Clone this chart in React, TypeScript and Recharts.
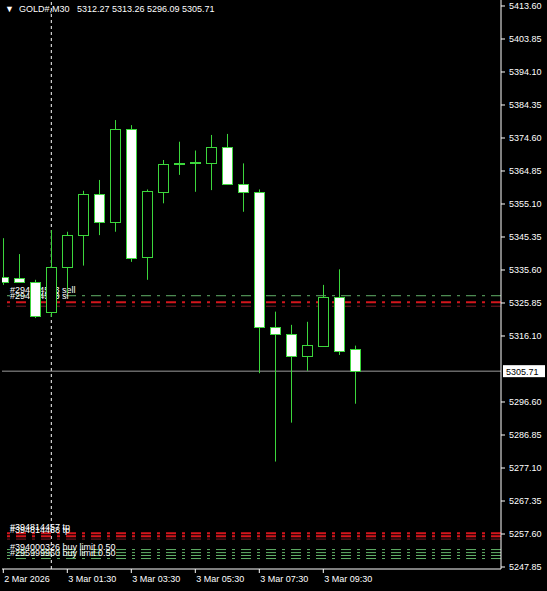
import { ComposedChart, Bar, XAxis, YAxis, ReferenceLine } from "recharts";

// GOLD#, M30 bars (oldest first)
const opens = [5333.5, 5333.1, 5332.0, 5323.2, 5336.5, 5345.9, 5358.0, 5349.9, 5377.2, 5339.4, 5358.7, 5367.0, 5367.1, 5367.1, 5371.9, 5360.9, 5358.6, 5318.9, 5316.6, 5310.3, 5313.2, 5327.5, 5312.27];
const highs = [5345.0, 5340.3, 5332.7, 5347.4, 5346.9, 5359.0, 5362.2, 5379.9, 5378.4, 5359.4, 5368.1, 5373.5, 5370.9, 5375.5, 5375.8, 5367.1, 5359.4, 5323.3, 5319.4, 5320.3, 5331.2, 5335.8, 5313.26];
const lows = [5331.2, 5332.6, 5321.4, 5321.7, 5328.8, 5336.9, 5345.9, 5346.9, 5338.0, 5332.7, 5355.3, 5363.7, 5358.7, 5359.2, 5360.7, 5352.8, 5305.1, 5279.0, 5290.5, 5305.8, 5313.2, 5310.5, 5296.09];
const closes = [5332.0, 5332.1, 5322.0, 5336.5, 5345.9, 5358.0, 5349.9, 5377.2, 5339.1, 5358.9, 5366.8, 5367.3, 5367.4, 5371.9, 5360.9, 5358.6, 5318.9, 5316.6, 5310.3, 5313.4, 5327.5, 5311.8, 5305.71];

const timeTicks = [0, 4, 8, 12, 16, 20];
const timeLabels = ["2 Mar 2026", "3 Mar 01:30", "3 Mar 03:30", "3 Mar 05:30", "3 Mar 07:30", "3 Mar 09:30"];
const daySeparator = 3;

const priceTicks = [5413.6, 5403.85, 5394.1, 5384.35, 5374.6, 5364.85, 5355.1, 5345.35, 5335.6, 5325.85, 5316.1, 5296.6, 5286.85, 5277.1, 5267.35, 5257.6, 5247.85];

// trade levels drawn on the chart
const orderPrices = [5328.0, 5326.1, 5324.9, 5257.8, 5256.9, 5256.1, 5253.0, 5252.1, 5251.25, 5250.35];
const orderKinds = ["pending", "stop", "stopDim", "stop", "stop", "stopDim", "pending", "pending", "pending", "pending"];
const orderTexts = ["#294114563 sell", "#294114593 sl", "", "#394814457 tp", "#394814468 tp", "", "", "#394000326 buy limit 0.50", "", "#295999960 buy limit 0.50"];

const symbol = "GOLD#,M30";
const lastOpen = opens[opens.length - 1];
const lastHigh = highs[highs.length - 1];
const lastLow = lows[lows.length - 1];
const lastClose = closes[closes.length - 1];

const CANDLE = "#3cd63c";
const FONT = "'Liberation Sans', Arial, sans-serif";

const kindStyle: Record<string, { stroke: string; width: number }> = {
  pending: { stroke: "#63b369", width: 1 },
  stop: { stroke: "#d3161c", width: 2 },
  stopDim: { stroke: "#7c1a24", width: 1 },
};

const data = opens.map((o, i) => ({
  i,
  open: o,
  high: highs[i],
  low: lows[i],
  close: closes[i],
  range: [lows[i], highs[i]],
}));

function Candle(props: any) {
  const { x, y, width, height, payload } = props;
  const { open, high, low, close } = payload;
  const top = Math.min(y, y + height);
  const h = Math.abs(height);
  const span = high - low || 1;
  const py = (v: number) => top + ((high - v) / span) * h;
  const cx = Math.round(x + width / 2) + 0.5;
  const bTop = Math.round(py(Math.max(open, close))) + 0.5;
  const bBot = Math.round(py(Math.min(open, close))) + 0.5;
  const bear = close < open;
  return (
    <g>
      <line x1={cx} x2={cx} y1={top} y2={top + h} stroke={CANDLE} />
      <rect
        x={cx - 5}
        y={bTop}
        width={10}
        height={Math.max(bBot - bTop, 1)}
        fill={bear ? "#ffffff" : "#000000"}
        stroke={CANDLE}
      />
    </g>
  );
}

function TimeTick({ x, y, payload }: any) {
  const label = timeLabels[timeTicks.indexOf(payload.value)];
  return (
    <text x={x + 1} y={y + 9} fill="#ffffff" fontSize={9} fontFamily={FONT}>
      {label}
    </text>
  );
}

function LineLabel({ viewBox, text }: any) {
  if (!viewBox || !text) return null;
  return (
    <text x={viewBox.x + 8} y={viewBox.y - 3} fill="#ffffff" fontSize={9} fontFamily={FONT}>
      {text}
    </text>
  );
}

function PriceTag({ viewBox, value }: any) {
  if (!viewBox) return null;
  const x = viewBox.x + viewBox.width + 2;
  return (
    <g>
      <rect x={x} y={viewBox.y - 6} width={42} height={12} fill="#ffffff" />
      <text x={x + 3} y={viewBox.y + 3.5} fill="#000000" fontSize={9} fontFamily={FONT}>
        {value.toFixed(2)}
      </text>
    </g>
  );
}

export default function App() {
  return (
    <div style={{ position: "absolute", left: 0, top: 0, width: 547, height: 591, background: "#000000", overflow: "hidden" }}>
      <ComposedChart
        width={547}
        height={591}
        data={data}
        margin={{ top: 0, right: 0, left: 2, bottom: 0 }}
      >
        <XAxis
          dataKey="i"
          type="number"
          domain={[-0.08125, 31.10625]}
          allowDataOverflow
          ticks={timeTicks}
          interval={0}
          height={22}
          tickSize={4}
          tickMargin={0}
          axisLine={{ stroke: "#ffffff" }}
          tickLine={{ stroke: "#ffffff" }}
          tick={<TimeTick />}
        />
        <YAxis
          yAxisId="frame"
          orientation="left"
          width={0}
          domain={[5247.26, 5415.37]}
          tick={false}
          tickLine={false}
          axisLine={{ stroke: "#ffffff" }}
        />
        <YAxis
          orientation="right"
          width={46}
          domain={[5247.26, 5415.37]}
          allowDataOverflow
          ticks={priceTicks}
          interval={0}
          tickSize={4}
          tickMargin={4}
          axisLine={{ stroke: "#ffffff" }}
          tickLine={{ stroke: "#ffffff" }}
          tick={{ fill: "#ffffff", fontSize: 9, fontFamily: FONT }}
          tickFormatter={(v: number) => v.toFixed(2)}
        />

        <ReferenceLine x={daySeparator} stroke="#ffffff" strokeDasharray="3 3" zIndex={50} />

        {orderPrices.map((p, k) => (
          <ReferenceLine
            key={k}
            y={p}
            stroke={kindStyle[orderKinds[k]].stroke}
            strokeWidth={kindStyle[orderKinds[k]].width}
            strokeDasharray="10 6 3 6"
            zIndex={60}
            label={<LineLabel text={orderTexts[k]} />}
          />
        ))}

        <ReferenceLine y={lastClose} stroke="#9c9c9c" zIndex={70} label={<PriceTag value={lastClose} />} />

        <Bar
          dataKey="range"
          barSize={10}
          shape={<Candle />}
          isAnimationActive={false}
        />
      </ComposedChart>

      <div
        style={{
          position: "absolute",
          left: 5,
          top: 4,
          color: "#ffffff",
          fontSize: 9,
          lineHeight: "11px",
          fontFamily: FONT,
          whiteSpace: "pre",
        }}
      >
        {`▼  ${symbol}   ${lastOpen.toFixed(2)} ${lastHigh.toFixed(2)} ${lastLow.toFixed(2)} ${lastClose.toFixed(2)}`}
      </div>
    </div>
  );
}
